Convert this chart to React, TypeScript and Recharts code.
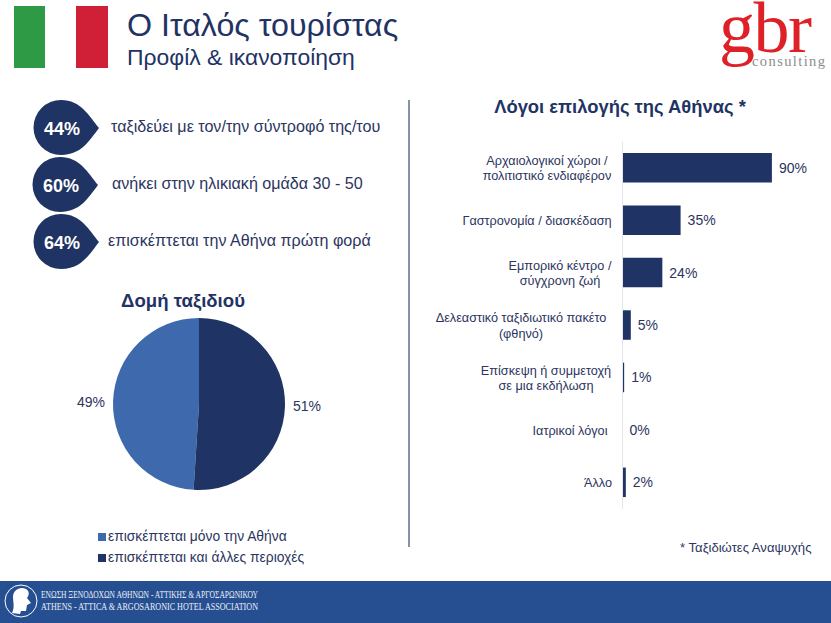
import { Bar, BarChart, Cell, LabelList, Legend, Pie, PieChart, XAxis, YAxis } from 'recharts'

const reasonLabels = [
  ['Αρχαιολογικοί χώροι /', 'πολιτιστικό ενδιαφέρον'],
  ['Γαστρονομία / διασκέδαση'],
  ['Εμπορικό κέντρο /', 'σύγχρονη ζωή'],
  ['Δελεαστικό ταξιδιωτικό πακέτο', '(φθηνό)'],
  ['Επίσκεψη ή συμμετοχή', 'σε μια εκδήλωση'],
  ['Ιατρικοί λόγοι'],
  ['Άλλο'],
]
const reasonValues = [90, 35, 24, 5, 1, 0, 2]

const tripLabels = ['επισκέπτεται μόνο την Αθήνα', 'επισκέπτεται και άλλες περιοχές']
const tripValues = [49, 51]
const tripColors = ['#3f69ad', '#1f3364']

const profileValues = ['44%', '60%', '64%']
const profileTexts = ['ταξιδεύει με τον/την σύντροφό της/του', 'ανήκει στην ηλικιακή ομάδα 30 - 50', 'επισκέπτεται την Αθήνα πρώτη φορά']

// layout of the left column callouts and the centre of each axis label block
const profileRows = [
  { x: 33, y: 128, textX: 111 },
  { x: 32, y: 185, textX: 112 },
  { x: 33, y: 242, textX: 108 },
]
const tickCenters = [547, 537, 560, 521, 546, 570, 598]

const NAVY = '#1f3364'
const INK = '#2c3560'
const SANS = '"Liberation Sans", Arial, sans-serif'
const SERIF = '"Liberation Serif", "Times New Roman", serif'

const reasonData = reasonLabels.map((lines, i) => ({ name: lines.join('|'), value: reasonValues[i] }))
const tripData = tripLabels.map((name, i) => ({ name, value: tripValues[i] }))

function ReasonTick({ y, payload, index }: any) {
  const lines = String(payload.value).split('|')
  const top = y - (lines.length - 1) * 7.75 + 4.5
  return (
    <text fontFamily={SANS} fontSize={12.7} fill={INK} textAnchor="middle">
      {lines.map((line: string, i: number) => (
        <tspan key={i} x={tickCenters[index] - 420} y={top + i * 15.5}>
          {line}
        </tspan>
      ))}
    </text>
  )
}

function PieLabel({ cx, cy, midAngle, outerRadius, value }: any) {
  const r = outerRadius + 22
  const rad = (midAngle * Math.PI) / 180
  return (
    <text
      x={cx + r * Math.cos(rad)}
      y={cy + 4 + (value > 50 ? 3 : -1)}
      fontFamily={SANS}
      fontSize={14}
      fill={INK}
      textAnchor="middle"
    >
      {value}%
    </text>
  )
}

function ValueLabel({ x, y, width, height, value }: any) {
  return (
    <text x={x + width + 7} y={y + height / 2 + 5} fontFamily={SANS} fontSize={14} fill={INK}>
      {value}%
    </text>
  )
}

function TripLegend({ payload }: any) {
  return (
    <div style={{ fontFamily: SANS, fontSize: 13.85, color: INK, lineHeight: '21px' }}>
      {(payload ?? []).map((entry: any) => (
        <div key={entry.value} style={{ display: 'flex', alignItems: 'center', whiteSpace: 'nowrap' }}>
          <span style={{ width: 8, height: 8, background: entry.color, marginRight: 2 }} />
          {entry.value}
        </div>
      ))}
    </div>
  )
}

function Chrome() {
  return (
    <svg width={831} height={623} style={{ position: 'absolute', left: 0, top: 0 }} fontFamily={SANS}>
      <rect x={14} y={6} width={31} height={62} fill="#2e9a46" />
      <rect x={76} y={6} width={32} height={62} fill="#d02037" />
      <text x={127} y={36} fontSize={32.2} fill={NAVY}>Ο Ιταλός τουρίστας</text>
      <text x={127} y={65} fontSize={22.9} fill={NAVY}>Προφίλ &amp; ικανοποίηση</text>

      <text x={719} y={52} fontFamily={SERIF} fontSize={72} fill="#de2027" letterSpacing={-1.5}>gbr</text>
      <text x={752} y={66} fontFamily={SERIF} fontSize={14.5} fill="#8c8c8c" textLength={73}>consulting</text>

      {profileRows.map((row, i) => (
        <g key={profileValues[i]}>
          <path
            d={`M ${row.x + 66} ${row.y} C ${row.x + 56} ${row.y + 13} ${row.x + 48} ${row.y + 27} ${row.x + 28} ${row.y + 27} A 27.5 27.5 0 1 1 ${row.x + 28} ${row.y - 28} C ${row.x + 48} ${row.y - 28} ${row.x + 56} ${row.y - 12} ${row.x + 66} ${row.y} Z`}
            fill={NAVY}
          />
          <text x={row.x + 29} y={row.y + 7} fontSize={18} fontWeight={700} fill="#fff" textAnchor="middle">
            {profileValues[i]}
          </text>
          <text x={row.textX} y={row.y + 4} fontSize={16.1} fill={INK}>{profileTexts[i]}</text>
        </g>
      ))}

      <text x={183} y={307} fontSize={18.6} fontWeight={700} fill={NAVY} textAnchor="middle">Δομή ταξιδιού</text>
      <line x1={409} y1={100} x2={409} y2={547} stroke="#44557f" strokeWidth={1.3} />
      <text x={620} y={113} fontSize={18.4} fontWeight={700} fill={NAVY} textAnchor="middle">Λόγοι επιλογής της Αθήνας *</text>
      <text x={680} y={552} fontSize={13.1} fill={INK}>* Ταξιδιώτες Αναψυχής</text>

      <rect x={0} y={581} width={831} height={42} fill="#264f92" />
      <circle cx={21} cy={601} r={16} fill="none" stroke="#fff" strokeWidth={1} />
      <path d="M 12 613 C 15 607 13 602 13 597 C 13 590 20 586 26 589 C 30 591 29 596 27 598 L 31 603 L 27 605 L 26 611 L 21 611 L 20 614 Z" fill="#fff" />
      <text x={41} y={598} fontFamily={SERIF} fontSize={10} fill="#e8edf6" textLength={217} lengthAdjust="spacingAndGlyphs">ΕΝΩΣΗ ΞΕΝΟΔΟΧΩΝ ΑΘΗΝΩΝ - ΑΤΤΙΚΗΣ &amp; ΑΡΓΟΣΑΡΩΝΙΚΟΥ</text>
      <text x={41} y={610} fontFamily={SERIF} fontSize={10} fill="#e8edf6" textLength={217} lengthAdjust="spacingAndGlyphs">ATHENS - ATTICA &amp; ARGOSARONIC HOTEL ASSOCIATION</text>
    </svg>
  )
}

export default function App() {
  return (
    <div style={{ position: 'absolute', left: 0, top: 0, width: 831, height: 623, background: '#fff', overflow: 'hidden' }}>
      <Chrome />
      <div style={{ position: 'absolute', left: 0, top: 280 }}>
        <PieChart width={409} height={290} margin={{ top: 0, right: 0, bottom: 0, left: 0 }}>
          <Pie
            data={tripData}
            dataKey="value"
            nameKey="name"
            cx={199}
            cy={124}
            outerRadius={86}
            startAngle={266.4}
            endAngle={-93.6}
            stroke="none"
            labelLine={false}
            label={PieLabel}
            isAnimationActive={false}
          >
            {tripData.map((entry, i) => (
              <Cell key={entry.name} fill={tripColors[i]} />
            ))}
          </Pie>
          <Legend content={TripLegend} itemSorter={null} wrapperStyle={{ left: 98, top: 246, width: 300 }} />
        </PieChart>
      </div>
      <div style={{ position: 'absolute', left: 420, top: 132 }}>
        <BarChart
          width={411}
          height={387}
          data={reasonData}
          layout="vertical"
          barCategoryGap={0}
          margin={{ top: 10, right: 42.5, bottom: 10, left: 0 }}
        >
          <XAxis type="number" domain={[0, 100]} hide />
          <YAxis
            type="category"
            dataKey="name"
            width={202.5}
            interval={0}
            axisLine={{ stroke: '#e4e5ea' }}
            tickLine={false}
            tick={<ReasonTick />}
          />
          <Bar dataKey="value" fill={NAVY} barSize={29.5} minPointSize={0.01} isAnimationActive={false}>
            <LabelList dataKey="value" content={ValueLabel} />
          </Bar>
        </BarChart>
      </div>
    </div>
  )
}
